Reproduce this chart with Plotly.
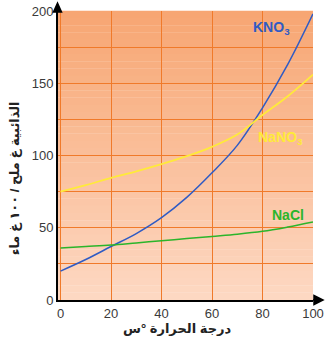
import plotly.graph_objects as go

# ---- data ----
temperature = [0, 10, 20, 30, 40, 50, 60, 70, 80, 90, 100]
kno3 = [20, 28, 37, 46, 57, 71, 88, 107, 133, 163, 198]
nano3 = [75, 79.5, 84.5, 89, 94, 99.5, 106, 114.5, 128, 141, 156]
nacl = [36, 37, 38, 39.5, 41, 42.5, 44, 45.5, 47.5, 50.5, 54]

x_ticks = [0, 20, 40, 60, 80, 100]
x_ticktext = ["0", "20", "40", "60", "80", "100"]
y_ticks = [0, 50, 100, 150, 200]
y_ticktext = ["0", "50", "100", "150", "200"]

x_title = "درجة الحرارة °س"
y_title = "الذائبية غ ملح / ١٠٠ غ ماء"

FONT = "Arial, Liberation Sans, DejaVu Sans, sans-serif"
GRID = "#F07A2A"

fig = go.Figure()
fig.add_trace(go.Scatter(x=temperature, y=kno3, mode="lines", line=dict(color="#2F5BC4", width=1.5, shape="spline")))
fig.add_trace(go.Scatter(x=temperature, y=nano3, mode="lines", line=dict(color="#FFEA3A", width=1.8, shape="spline")))
fig.add_trace(go.Scatter(x=temperature, y=nacl, mode="lines", line=dict(color="#2BB52B", width=1.5, shape="spline")))

# gradient background (paper-domain strips)
top = (247, 166, 115)
bot = (253, 216, 194)
n = 40
shapes = []
for i in range(n):
    t = i / (n - 1)
    c = tuple(round(top[k] + (bot[k] - top[k]) * t) for k in range(3))
    shapes.append(dict(type="rect", xref="x domain", yref="y domain",
                       x0=0, x1=1, y0=1 - (i + 1) / n, y1=1 - i / n + 0.001,
                       fillcolor="rgb(%d,%d,%d)" % c, line=dict(width=0), layer="below"))

# axis arrowheads (pixel-sized, anchored at axis ends)
shapes.append(dict(type="path", xref="paper", yref="paper", xsizemode="pixel", ysizemode="pixel",
                   xanchor=0, yanchor=1, path="M -0.5 0 L -0.5 6 M -4.5 -1 L -0.5 8 L 3.5 -1 Z",
                   fillcolor="black", line=dict(color="black", width=1.5), layer="above"))
shapes.append(dict(type="path", xref="paper", yref="paper", xsizemode="pixel", ysizemode="pixel",
                   xanchor=1, yanchor=0, path="M 0 0 L 7 0 M 1 -4.5 L 10 0 L 1 4.5 Z",
                   fillcolor="black", line=dict(color="black", width=1.5), layer="above"))

annotations = [
    dict(x=83.5, y=188, xref="x", yref="y", text="<b>KNO<sub>3</sub></b>", showarrow=False,
         font=dict(family=FONT, size=14, color="#2F5BC4")),
    dict(x=87, y=112, xref="x", yref="y", text="<b>NaNO<sub>3</sub></b>", showarrow=False,
         font=dict(family=FONT, size=14, color="#FFEA3A")),
    dict(x=90, y=59, xref="x", yref="y", text="<b>NaCl</b>", showarrow=False,
         font=dict(family=FONT, size=14, color="#2BB52B")),
    # axis titles
    dict(x=0.47, y=-0.097, xref="paper", yref="paper", text="<b>" + x_title + "</b>", showarrow=False,
         yanchor="middle", font=dict(family=FONT, size=13, color="#222222")),
    dict(x=-0.17, y=0.42, xref="paper", yref="paper", text="<b>" + y_title + "</b>", showarrow=False,
         textangle=-90, xanchor="center", yanchor="middle", font=dict(family=FONT, size=13, color="#222222")),
]

fig.update_layout(
    width=326, height=337,
    margin=dict(l=58, r=13, t=11, b=37),
    paper_bgcolor="white", plot_bgcolor="rgba(0,0,0,0)",
    showlegend=False,
    shapes=shapes, annotations=annotations,
    font=dict(family=FONT, size=13, color="#333333"),
)
fig.update_xaxes(range=[-1, 100], tickvals=x_ticks, ticktext=x_ticktext, automargin=False,
                 showgrid=True, gridcolor=GRID, gridwidth=1.2, zeroline=False,
                 showline=True, linecolor="black", linewidth=2, ticks="",
                 tickfont=dict(size=13, color="#3a3a3a"))
fig.update_yaxes(range=[0, 200], tickvals=y_ticks, ticktext=y_ticktext, automargin=False,
                 showgrid=True, gridcolor=GRID, gridwidth=1.2, zeroline=False,
                 minor=dict(dtick=25, tick0=0, showgrid=True, gridcolor=GRID, gridwidth=1.2, ticks=""),
                 showline=True, linecolor="black", linewidth=2, ticks="",
                 tickfont=dict(size=13, color="#3a3a3a"))

fig.write_html("out.html", config={"displayModeBar": False},
               post_script="document.body.style.margin='0';")
